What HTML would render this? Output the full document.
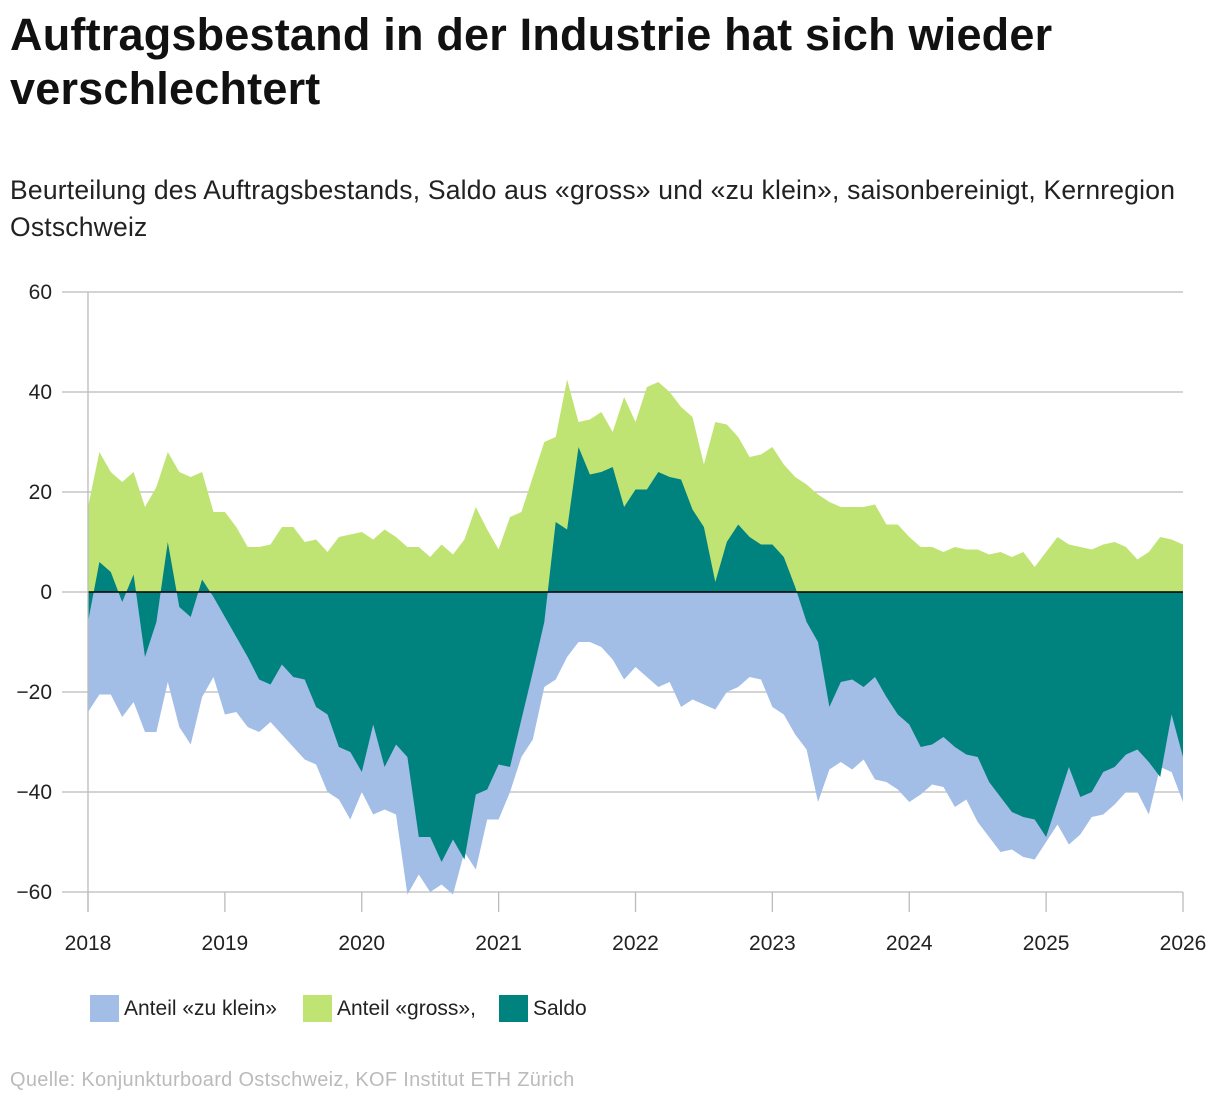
<!DOCTYPE html>
<html><head><meta charset="utf-8">
<style>
body{margin:0;background:#fff;font-family:"Liberation Sans",sans-serif;}
#wrap{position:relative;width:1220px;height:1106px;overflow:hidden;}
h1{position:absolute;left:10px;top:8px;margin:0;font-size:45px;line-height:54px;font-weight:bold;color:#111;letter-spacing:0.2px;white-space:nowrap;}
.sub{position:absolute;left:10px;top:172px;font-size:26.5px;line-height:37px;color:#222;letter-spacing:0.2px;white-space:nowrap;}
.src{position:absolute;left:10px;top:1069px;font-size:20px;color:#bbb;letter-spacing:0.3px;}
svg{position:absolute;left:0;top:0;}
svg text{font-family:"Liberation Sans",sans-serif;font-size:21px;fill:#222;}
</style></head><body>
<div id="wrap">
<h1>Auftragsbestand in der Industrie hat sich wieder<br>verschlechtert</h1>
<div class="sub">Beurteilung des Auftragsbestands, Saldo aus «gross» und «zu klein», saisonbereinigt, Kernregion<br>Ostschweiz</div>
<svg id="chart" width="1220" height="1106"></svg>
<div class="src">Quelle: Konjunkturboard Ostschweiz, KOF Institut ETH Zürich</div>
</div>
<script>
const gross=[17,28,24,22,24,17,21,28,24,23,24,16,
16,13,9,9,9.5,13,13,10,10.5,8,11,11.5,
12,10.5,12.5,11,9,9,7,9.5,7.5,10.5,17,12.5,
8.5,15,16,23,30,31,42.5,34,34.5,36,32,39,
34,41,42,40,37,35,25.5,34,33.5,31,27,27.5,
29,25.5,23,21.5,19.5,18,17,17,17,17.5,13.5,13.5,
11,9,9,8,9,8.5,8.5,7.5,8,7,8,5,
8,11,9.5,9,8.5,9.5,10,9,6.5,8,11,10.5,9.5];
const klein=[24,20.5,20.5,25,22,28,28,18,27,30.5,21,17,
24.5,24,27,28,26,28.5,31,33.5,34.5,40,41.5,45.5,
40,44.5,43.5,44.5,60.5,56.5,60,58.5,60.5,52,55.5,45.5,
45.5,40,33,29.5,19,17.5,13,10,10,11,13.5,17.5,
15,17,19,18,23,21.5,22.5,23.5,20,19,17,17.5,
23,24.5,28.5,31.5,42,35.5,34,35.5,33.5,37.5,38,39.5,
42,40.5,38.5,39,43,41.5,46,49,52,51.5,53,53.5,
50,46.5,50.5,48.5,45,44.5,42.5,40,40,44.5,35,36,42];
const saldo=[-6,6,4,-2,3.5,-13,-6,10,-3,-5,2.5,-1,
-5,-9,-13,-17.5,-18.5,-14.5,-17,-17.5,-23,-24.5,-31,-32,
-36,-26.5,-35,-30.5,-33,-49,-49,-54,-49.5,-53.5,-40.5,-39.5,
-34.5,-35,-25.5,-16,-6,14,12.5,29,23.5,24,25,17,
20.5,20.5,24,23,22.5,16.5,13,2,10,13.5,11,9.5,
9.5,7,1,-6,-10,-23,-18,-17.5,-19,-17,-21,-24.5,
-26.5,-31,-30.5,-29,-31,-32.5,-33,-38,-41,-44,-45,-45.5,
-49,-42,-35,-41,-40,-36,-35,-32.5,-31.5,-34,-37,-24.5,-33];
const yTicks=[60,40,20,0,-20,-40,-60];
const xYears=[2018,2019,2020,2021,2022,2023,2024,2025,2026];
const X0=88,X1=1183,Y0=592,SC=5;
const xs=i=>X0+i*(X1-X0)/(gross.length-1);
const yy=v=>Y0-v*SC;
const xYear=y=>X0+(y-2018)*(X1-X0)/8;
const svg=document.getElementById('chart');
const NS='http://www.w3.org/2000/svg';
function mk(t,a){const e=document.createElementNS(NS,t);for(const k in a)e.setAttribute(k,a[k]);svg.appendChild(e);return e;}
yTicks.forEach(v=>{
 const l=mk('line',{x1:62,x2:1183,y1:yy(v),y2:yy(v),stroke:'#bbb','stroke-width':1.3});
 
 
 const t=mk('text',{x:52,y:yy(v)+7,'text-anchor':'end'});
 t.textContent=(v<0?'−':'')+Math.abs(v);
 
 
});
function area(vals,fill,name){
 let d='M'+xs(0)+','+Y0;
 vals.forEach((v,i)=>d+=' L'+xs(i).toFixed(1)+','+yy(v).toFixed(1));
 d+=' L'+xs(vals.length-1)+','+Y0+' Z';
 const p=mk('path',{d:d,fill:fill});
 
 
}
area(gross,'#bfe474','area-gross');
area(klein.map(v=>-v),'#a2bde6','area-zu-klein');
area(saldo,'#00827f','area-saldo');
const z=mk('line',{x1:X0,x2:X1,y1:Y0,y2:Y0,stroke:'#000','stroke-width':1.5});


const ax=mk('line',{x1:X0,x2:X0,y1:292,y2:912,stroke:'#bbb','stroke-width':1.3});


xYears.forEach(y=>{
 const tk=mk('line',{x1:xYear(y),x2:xYear(y),y1:892,y2:912,stroke:'#bbb','stroke-width':1.3});
 
 
 const t=mk('text',{x:xYear(y),y:950,'text-anchor':'middle'});
 t.textContent=y;
 
 
});
const legend=[['#a2bde6','Anteil «zu klein»',90],['#bfe474','Anteil «gross»,',303],['#00827f','Saldo',499]];
legend.forEach(([c,l,x])=>{
 const r=mk('rect',{x:x,y:995,width:29,height:27,fill:c});
 
 
 const t=mk('text',{x:x+34,y:1015});
 t.textContent=l;
 
 
});
</script>
</body></html>
